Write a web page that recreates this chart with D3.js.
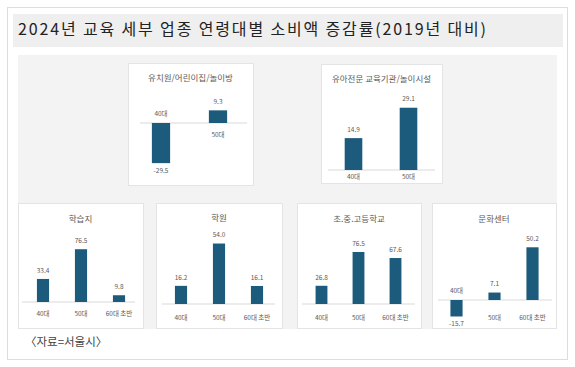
<!DOCTYPE html>
<html><head><meta charset="utf-8">
<script src="https://cdn.jsdelivr.net/npm/d3@7"></script>
<style>html,body{margin:0;padding:0;background:#fff;}svg{display:block;}</style>
</head><body>
<svg id="c" width="575" height="367"></svg>
<script>
// ---- data ----
const chartTitle = "2024년 교육 세부 업종 연령대별 소비액 증감률(2019년 대비)";
const sourceText = "〈자료=서울시〉";
const panelTitles = ["유치원/어린이집/놀이방", "유아전문 교육기관/놀이시설", "학습지", "학원", "초.중.고등학교", "문화센터"];
const panelCategories = [
  ["40대", "50대"],
  ["40대", "50대"],
  ["40대", "50대", "60대 초반"],
  ["40대", "50대", "60대 초반"],
  ["40대", "50대", "60대 초반"],
  ["40대", "50대", "60대 초반"]
];
const panelValues = [
  [-29.5, 9.3],
  [14.9, 29.1],
  [33.4, 76.5, 9.8],
  [16.2, 54.0, 16.1],
  [26.8, 76.5, 67.6],
  [-15.7, 7.1, 50.2]
];
const panelDomains = [[-30, 10], [0, 30], [0, 80], [0, 60], [0, 80], [-20, 60]];

// ---- layout ----
const layout = [
  {x:128, y:63, w:125, h:122, titleY:79, bx:[132.5,246.5], py:[109.4,163.8], lx:[140,247], catOff:12},
  {x:321, y:64, w:121, h:119, titleY:80, bx:[326,436], py:[105.8,170], lx:[328,435], catOff:7},
  {x:18, y:203, w:125, h:125, titleY:220, bx:[24,138], py:[246.8,302], lx:[22,135], catOff:12},
  {x:156, y:203, w:126, h:125, titleY:219, bx:[162,276], py:[236.8,304], lx:[162,275], catOff:14},
  {x:297, y:203, w:124, h:125, titleY:220, bx:[303,414], py:[249.6,304], lx:[302,415], catOff:14},
  {x:432, y:203, w:124, h:125, titleY:220, bx:[437.5,551.5], py:[237,321], lx:[438,552], catOff:18}
];
const barColor = "#1d5b7c";
const textGray = "#5a5a5a";
const font = "'Noto Sans CJK KR', 'Noto Sans', sans-serif";
const fmt = v => d3.format(".1f")(v).replace("\u2212", "-");

const svg = d3.select("#c");
svg.append("rect").attr("x",7.5).attr("y",7.5).attr("width",560).attr("height",352)
  .attr("fill","#fff").attr("stroke","#dddddd");
svg.append("rect").attr("x",13).attr("y",14).attr("width",550).attr("height",33).attr("fill","#efefef");
svg.append("text").attr("x",18).attr("y",31).attr("dominant-baseline","middle")
  .attr("font-family",font).attr("font-size",16).attr("fill","#222")
  .attr("textLength",468).attr("lengthAdjust","spacing")
  .text(chartTitle);
svg.append("rect").attr("x",18).attr("y",55).attr("width",539).attr("height",274).attr("fill","#f3f3f3");

panelValues.forEach((vals, i) => {
  const L = layout[i];
  const cats = panelCategories[i];
  const g = svg.append("g");
  g.append("rect").attr("x",L.x+0.5).attr("y",L.y+0.5).attr("width",L.w).attr("height",L.h)
    .attr("fill","#fff").attr("stroke","#e4e4e4");
  g.append("text").attr("x",L.x+L.w/2).attr("y",L.titleY).attr("text-anchor","middle")
    .attr("dominant-baseline","middle").attr("font-family",font).attr("font-size",8.5)
    .attr("fill",textGray).text(panelTitles[i]);
  const x = d3.scaleBand().domain(cats).range(L.bx).paddingInner(0.68).paddingOuter(0.34);
  const y = d3.scaleLinear().domain(panelDomains[i]).range([L.py[1], L.py[0]]);
  const y0 = y(0);
  g.append("line").attr("x1",L.lx[0]).attr("x2",L.lx[1]).attr("y1",y0).attr("y2",y0)
    .attr("stroke","#d9d9d9").attr("stroke-width",1);
  const data = cats.map((c, j) => ({c, v: vals[j]}));
  g.selectAll("rect.bar").data(data).join("rect").attr("class","bar")
    .attr("x", d => x(d.c)).attr("width", x.bandwidth())
    .attr("y", d => Math.min(y(d.v), y0)).attr("height", d => Math.abs(y(d.v) - y0))
    .attr("fill", barColor);
  g.selectAll("text.val").data(data).join("text").attr("class","val")
    .attr("x", d => x(d.c) + x.bandwidth()/2)
    .attr("y", d => d.v >= 0 ? y(d.v) - 8 : y(d.v) + 8)
    .attr("text-anchor","middle").attr("dominant-baseline","middle")
    .attr("font-family",font).attr("font-size",6.5).attr("fill",textGray)
    .text(d => fmt(d.v));
  g.selectAll("text.cat").data(data).join("text").attr("class","cat")
    .attr("x", d => x(d.c) + x.bandwidth()/2)
    .attr("y", d => d.v < 0 ? y0 - 9 : y0 + L.catOff)
    .attr("text-anchor","middle").attr("dominant-baseline","middle")
    .attr("font-family",font).attr("font-size",6.5).attr("fill",textGray)
    .text(d => d.c);
});

svg.append("text").attr("x",25).attr("y",343).attr("dominant-baseline","middle")
  .attr("font-family",font).attr("font-size",11.5).attr("fill","#444").text(sourceText);
</script>
</body></html>
